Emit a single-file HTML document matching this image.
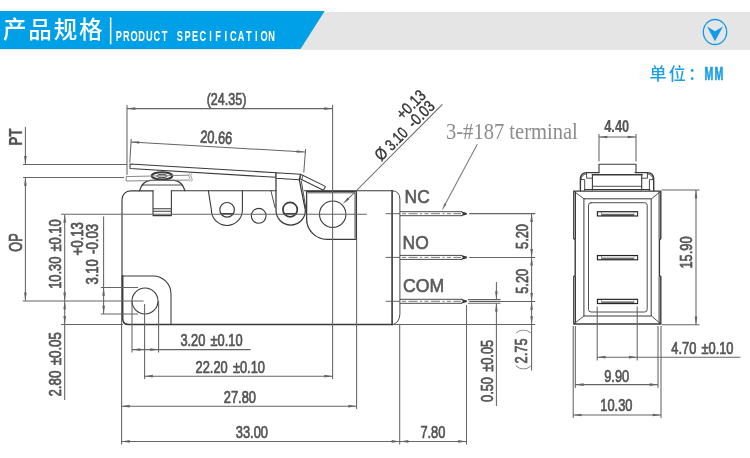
<!DOCTYPE html>
<html lang="zh"><head><meta charset="utf-8"><title>产品规格 PRODUCT SPECIFICATION</title>
<style>html,body{margin:0;padding:0;background:#fff}svg{display:block;will-change:transform}</style></head>
<body>
<svg width="750" height="458" viewBox="0 0 750 458">
<rect width="750" height="458" fill="#fff"/>
<rect x="0" y="12" width="750" height="37.9" fill="#e5e5e5"/>
<polygon points="0,11 324.7,11 300.5,49 0,49" fill="#00a0e9"/>
<text x="2.9" y="38.2" font-family="'Liberation Sans', 'Noto Sans CJK SC', sans-serif" font-size="23.5" font-weight="500" fill="#fff" letter-spacing="1.9">产品规格</text>
<rect x="109.9" y="17.4" width="1.5" height="26.8" fill="#fff"/>
<g transform="scale(0.64,1)"><text x="185.47 197.42 209.38 221.33 233.28 245.23 257.19 269.14 281.09 293.05 305.00 316.95 328.91 340.86 352.81 364.77 376.72 388.67 400.63 412.58 424.53" y="41.1" font-family="'Liberation Sans', sans-serif" font-size="14.4" font-weight="bold" fill="#fff" text-anchor="middle">PRODUCT SPECIFICATION</text></g>
<ellipse cx="715" cy="32" rx="11.7" ry="12.5" fill="none" stroke="#129be8" stroke-width="1.3"/>
<polygon points="707,26.6 715,31.2 723,26.6 715,41.2" fill="#129be8"/>
<text x="649.5" y="80" font-family="'Liberation Sans', 'Noto Sans CJK SC', sans-serif" font-size="17" font-weight="500" fill="#1a9fe8" letter-spacing="2.2">单位：</text>
<g transform="scale(0.6,1)"><text x="1181.50 1198.33" y="80.3" font-family="'Liberation Sans', sans-serif" font-size="17.6" font-weight="bold" fill="#1a9fe8" stroke="#1a9fe8" stroke-width="0.7" text-anchor="middle">MM</text></g>
<path d="M122,276 V199.3 A8.5,8.5 0 0 1 130.5,190.8 H153" fill="none" stroke="#3a3a3a" stroke-linejoin="round" stroke-linecap="round" stroke-width="1.15"/>
<path d="M171.4,190.8 H276 M304.4,190.8 H392.6" fill="none" stroke="#3a3a3a" stroke-linejoin="round" stroke-linecap="round" stroke-width="1.05"/>
<path d="M122.7,275.8 V318.6 Q123,324.5 128.6,324.5 H392.4" fill="none" stroke="#3a3a3a" stroke-linejoin="round" stroke-linecap="round" stroke-width="1.5"/>
<path d="M392.1,190.8 V324.5" fill="none" stroke="#3a3a3a" stroke-linejoin="round" stroke-linecap="round" stroke-width="1.6"/>
<path d="M392.6,190.8 Q399.6,191 399.9,199 V314 Q399.6,322.6 393,324.6" fill="none" stroke="#3a3a3a" stroke-linejoin="round" stroke-linecap="round" stroke-width="0.9"/>
<path d="M139.5,190.8 C141.5,184.5 145,180.6 150.5,180.3 H174 C179.5,180.6 183,184.5 185,190.8" fill="none" stroke="#3a3a3a" stroke-linejoin="round" stroke-linecap="round" stroke-width="1.2"/>
<path d="M153,190.8 V215.6 H171.4 V190.8 M153,208.8 H171.4 M153,211.2 H171.4" fill="none" stroke="#3a3a3a" stroke-linejoin="round" stroke-linecap="round" stroke-width="1.1"/>
<ellipse cx="162" cy="175.9" rx="10.2" ry="3.6" fill="none" stroke="#3a3a3a" stroke-linejoin="round" stroke-linecap="round" stroke-width="2.1"/>
<ellipse cx="162" cy="176" rx="5.2" ry="1.7" fill="#ddd" stroke="#3a3a3a" stroke-width="0.9"/>
<path d="M142,185 H182" fill="none" stroke="#3a3a3a" stroke-linejoin="round" stroke-linecap="round" stroke-width="0.9"/>
<path d="M189,175.2 L126.2,176.6 V181 L189,180" fill="none" stroke="#7a7a7a" stroke-width="0.9"/>
<path d="M189.5,173.5 q-1.5,2 0,4 q1.5,2 0,4 M191.5,173.5 q-1.5,2 0,4 q1.5,2 0,4" fill="none" stroke="#7a7a7a" stroke-width="0.7"/>
<path d="M130,164 L276,172.7 V177.3 L130,168.6 Z" fill="#fff" stroke="#3a3a3a" stroke-width="1.05" stroke-linejoin="round"/>
<path d="M300.6,174.2 L325.4,186.4 L323.4,190.2 L300,178.8 Z" fill="#fff" stroke="#3a3a3a" stroke-width="1.05" stroke-linejoin="round"/>
<path d="M276,172.8 L300.4,174.3 L299.3,179.7 L276,178.3 Z" fill="#fff" stroke="#3a3a3a" stroke-width="1.1" stroke-linejoin="round"/>
<path d="M302.8,175.4 L301.8,179.6" fill="none" stroke="#3a3a3a" stroke-linejoin="round" stroke-linecap="round" stroke-width="0.8"/>
<path d="M208.4,190.8 L211.4,210 A15.5,15.5 0 0 0 242.4,210 V190.8" fill="none" stroke="#3a3a3a" stroke-linejoin="round" stroke-linecap="round" stroke-width="1.1"/>
<circle cx="227.1" cy="209.8" r="7.3" fill="none" stroke="#3a3a3a" stroke-linejoin="round" stroke-linecap="round" stroke-width="1.2"/>
<path d="M221.4,213.7 H232.8" fill="none" stroke="#3a3a3a" stroke-linejoin="round" stroke-linecap="round" stroke-width="1.5"/>
<circle cx="258.7" cy="215.8" r="7.4" fill="none" stroke="#3a3a3a" stroke-linejoin="round" stroke-linecap="round" stroke-width="1.1"/>
<path d="M276,178.3 V210.3 A14.7,14.7 0 0 0 305.4,210.3 L299.3,179.7" fill="none" stroke="#3a3a3a" stroke-linejoin="round" stroke-linecap="round" stroke-width="1.25"/>
<path d="M271,191 L275,207.4" fill="none" stroke="#3a3a3a" stroke-linejoin="round" stroke-linecap="round" stroke-width="0.9"/>
<path d="M301.3,181 L305.9,208.5" fill="none" stroke="#3a3a3a" stroke-linejoin="round" stroke-linecap="round" stroke-width="0.9"/>
<circle cx="290.1" cy="209.6" r="7.2" fill="none" stroke="#3a3a3a" stroke-linejoin="round" stroke-linecap="round" stroke-width="1.7"/>
<path d="M284.4,213.8 H295.8" fill="none" stroke="#3a3a3a" stroke-linejoin="round" stroke-linecap="round" stroke-width="1.4"/>
<path d="M306.6,191.4 V219 A20.5,20.5 0 0 0 327,239.4 H356.4 V191.4 Z" fill="none" stroke="#3a3a3a" stroke-linejoin="round" stroke-linecap="round" stroke-width="1.3"/>
<path d="M308,192.8 H355 V238" fill="none" stroke="#3a3a3a" stroke-linejoin="round" stroke-linecap="round" stroke-width="0.9"/>
<circle cx="332.7" cy="214.2" r="13.2" fill="none" stroke="#3a3a3a" stroke-linejoin="round" stroke-linecap="round" stroke-width="1.1"/>
<path d="M122.4,275.9 H153 A18,18 0 0 1 171,293.9 V323.6" fill="none" stroke="#3a3a3a" stroke-linejoin="round" stroke-linecap="round" stroke-width="1.05"/>
<circle cx="145" cy="301" r="13" fill="none" stroke="#3a3a3a" stroke-linejoin="round" stroke-linecap="round" stroke-width="1.1"/>
<path d="M400,211.7 H462 M400,215.7 H462" fill="none" stroke="#4a4a4a" stroke-width="1"/>
<path d="M460.8,211.2 L466.9,212.9 V214.5 L460.8,216.2 L462.8,213.7 Z" fill="#3a3a3a"/>
<path d="M385.6,213.7 H400" fill="none" stroke="#555" stroke-width="0.9"/>
<line x1="402" y1="213.7" x2="461" y2="213.7" stroke="#444" stroke-width="0.7" stroke-dasharray="4,2.5,9,2.5,2,2.5"/>
<path d="M400,255.4 H462 M400,259.4 H462" fill="none" stroke="#4a4a4a" stroke-width="1"/>
<path d="M460.8,254.9 L466.9,256.6 V258.2 L460.8,259.9 L462.8,257.4 Z" fill="#3a3a3a"/>
<path d="M385.6,257.4 H400" fill="none" stroke="#555" stroke-width="0.9"/>
<line x1="402" y1="257.4" x2="461" y2="257.4" stroke="#444" stroke-width="0.7" stroke-dasharray="4,2.5,9,2.5,2,2.5"/>
<path d="M400,299.3 H462 M400,303.3 H462" fill="none" stroke="#4a4a4a" stroke-width="1"/>
<path d="M460.8,298.8 L466.9,300.5 V302.1 L460.8,303.8 L462.8,301.3 Z" fill="#3a3a3a"/>
<path d="M385.6,301.3 H400" fill="none" stroke="#555" stroke-width="0.9"/>
<line x1="402" y1="301.3" x2="461" y2="301.3" stroke="#444" stroke-width="0.7" stroke-dasharray="4,2.5,9,2.5,2,2.5"/>
<line x1="61" y1="214.3" x2="366.8" y2="214.3" stroke="#646464" stroke-width="1.05" />
<line x1="332.6" y1="105" x2="332.6" y2="379" stroke="#646464" stroke-width="1.05" />
<line x1="22.7" y1="300.9" x2="143.5" y2="300.9" stroke="#646464" stroke-width="1.05" />
<line x1="144.6" y1="304" x2="144.6" y2="379" stroke="#646464" stroke-width="1.05" />
<line x1="132" y1="301" x2="132" y2="352.5" stroke="#646464" stroke-width="1.05" />
<line x1="158.6" y1="301" x2="158.6" y2="352.5" stroke="#646464" stroke-width="1.05" />
<line x1="100.8" y1="287.4" x2="138" y2="287.4" stroke="#646464" stroke-width="1.05" />
<line x1="100.8" y1="314" x2="138" y2="314" stroke="#646464" stroke-width="1.05" />
<line x1="61" y1="324.4" x2="123" y2="324.4" stroke="#646464" stroke-width="1.05" />
<line x1="121.6" y1="276" x2="121.6" y2="444.5" stroke="#646464" stroke-width="1.05" />
<line x1="356.6" y1="239" x2="356.6" y2="409" stroke="#646464" stroke-width="1.05" />
<line x1="399.7" y1="324" x2="399.7" y2="444.5" stroke="#646464" stroke-width="1.05" />
<line x1="466.5" y1="305" x2="466.5" y2="444.5" stroke="#646464" stroke-width="1.05" />
<line x1="394" y1="324.5" x2="535.2" y2="324.5" stroke="#646464" stroke-width="1.05" />
<line x1="469.3" y1="213.6" x2="535.2" y2="213.6" stroke="#646464" stroke-width="1.05" />
<line x1="469.3" y1="257.4" x2="535.2" y2="257.4" stroke="#646464" stroke-width="1.05" />
<line x1="468" y1="299.6" x2="500.5" y2="299.6" stroke="#646464" stroke-width="1.05" />
<line x1="468" y1="303.2" x2="500.5" y2="303.2" stroke="#646464" stroke-width="1.05" />
<line x1="469.3" y1="301.4" x2="535.2" y2="301.4" stroke="#646464" stroke-width="1.05" />
<line x1="23" y1="164.4" x2="127" y2="164.4" stroke="#646464" stroke-width="1.05" />
<line x1="23" y1="177.4" x2="124" y2="177.4" stroke="#646464" stroke-width="1.05" />
<line x1="127" y1="105" x2="127" y2="175" stroke="#646464" stroke-width="1.05" />
<line x1="25.4" y1="127" x2="25.4" y2="164.4" stroke="#646464" stroke-width="1.05" />
<polygon points="25.40,164.40 24.05,156.10 26.75,156.10" fill="#646464"/>
<line x1="25.4" y1="177.4" x2="25.4" y2="300.8" stroke="#646464" stroke-width="1.05" />
<polygon points="25.40,177.40 26.75,185.70 24.05,185.70" fill="#646464"/>
<polygon points="25.40,300.80 24.05,292.50 26.75,292.50" fill="#646464"/>
<g opacity="0.999" transform="translate(21.7,145.8) rotate(-90) scale(0.76,1)"><text font-family="'Liberation Sans', Arial, sans-serif" font-size="18" font-weight="bold" fill="#545454" stroke="#545454" stroke-width="0.2" text-anchor="start" >PT</text></g>
<g opacity="0.999" transform="translate(21.7,251.8) rotate(-90) scale(0.71,1)"><text font-family="'Liberation Sans', Arial, sans-serif" font-size="18" font-weight="normal" fill="#545454" stroke="#545454" stroke-width="0.74" text-anchor="start" >OP</text></g>
<line x1="127" y1="108.6" x2="332.6" y2="108.6" stroke="#646464" stroke-width="1.05" />
<polygon points="127.00,108.60 135.30,107.25 135.30,109.95" fill="#646464"/>
<polygon points="332.60,108.60 324.30,109.95 324.30,107.25" fill="#646464"/>
<g opacity="0.999" transform="translate(206.7,105.4) rotate(0) scale(0.72,1)"><text font-family="'Liberation Sans', Arial, sans-serif" font-size="17.4" font-weight="normal" fill="#545454" stroke="#545454" stroke-width="0.74" text-anchor="start" >(24.35)</text></g>
<line x1="131" y1="142" x2="305" y2="152" stroke="#646464" stroke-width="1.05" />
<polygon points="131.00,142.00 139.36,141.13 139.21,143.83" fill="#646464"/>
<polygon points="305.00,152.00 296.64,152.87 296.79,150.17" fill="#646464"/>
<line x1="131.2" y1="139" x2="129.8" y2="162.5" stroke="#646464" stroke-width="1.05" />
<line x1="305.6" y1="149" x2="303.8" y2="172.5" stroke="#646464" stroke-width="1.05" />
<g opacity="0.999" transform="translate(199.9,142.4) rotate(3.3) scale(0.738,1)"><text font-family="'Liberation Sans', Arial, sans-serif" font-size="17.4" font-weight="normal" fill="#545454" stroke="#545454" stroke-width="0.74" text-anchor="start" >20.66</text></g>
<line x1="64.7" y1="214.4" x2="64.7" y2="400" stroke="#646464" stroke-width="1.05" />
<polygon points="64.70,214.40 66.05,222.70 63.35,222.70" fill="#646464"/>
<polygon points="64.70,300.90 63.35,292.60 66.05,292.60" fill="#646464"/>
<polygon points="64.70,300.90 66.05,309.20 63.35,309.20" fill="#646464"/>
<polygon points="64.70,324.40 63.35,316.10 66.05,316.10" fill="#646464"/>
<g opacity="0.999" transform="translate(60.7,288.8) rotate(-90) scale(0.738,1)"><text word-spacing="2.2" font-family="'Liberation Sans', Arial, sans-serif" font-size="17.4" font-weight="normal" fill="#545454" stroke="#545454" stroke-width="0.74" text-anchor="start" >10.30 ±0.10</text></g>
<g opacity="0.999" transform="translate(61.2,396.6) rotate(-90) scale(0.765,1)"><text word-spacing="2.2" font-family="'Liberation Sans', Arial, sans-serif" font-size="17.4" font-weight="normal" fill="#545454" stroke="#545454" stroke-width="0.74" text-anchor="start" >2.80 ±0.05</text></g>
<line x1="103.6" y1="216.5" x2="103.6" y2="314" stroke="#646464" stroke-width="1.05" />
<polygon points="103.60,287.40 104.95,295.70 102.25,295.70" fill="#646464"/>
<polygon points="103.60,314.00 102.25,305.70 104.95,305.70" fill="#646464"/>
<g opacity="0.999" transform="translate(98.3,284.6) rotate(-90) scale(0.83,1)"><text font-family="'Liberation Sans', Arial, sans-serif" font-size="15.8" font-weight="normal" fill="#545454" stroke="#545454" stroke-width="0.74" text-anchor="start" >3.10</text></g>
<g opacity="0.999" transform="translate(83.3,255.6) rotate(-90) scale(0.85,1)"><text font-family="'Liberation Sans', Arial, sans-serif" font-size="15.6" font-weight="normal" fill="#545454" stroke="#545454" stroke-width="0.74" text-anchor="start" >+0.13</text></g>
<g opacity="0.999" transform="translate(98.3,254) rotate(-90) scale(0.85,1)"><text font-family="'Liberation Sans', Arial, sans-serif" font-size="15.6" font-weight="normal" fill="#545454" stroke="#545454" stroke-width="0.74" text-anchor="start" >-0.03</text></g>
<line x1="132" y1="349.6" x2="250.7" y2="349.6" stroke="#646464" stroke-width="1.05" />
<polygon points="132.00,349.60 140.30,348.25 140.30,350.95" fill="#646464"/>
<polygon points="158.60,349.60 150.30,350.95 150.30,348.25" fill="#646464"/>
<g opacity="0.999" transform="translate(180.4,346.4) rotate(0) scale(0.738,1)"><text word-spacing="2.2" font-family="'Liberation Sans', Arial, sans-serif" font-size="17.4" font-weight="normal" fill="#545454" stroke="#545454" stroke-width="0.74" text-anchor="start" >3.20 ±0.10</text></g>
<line x1="144.6" y1="376.2" x2="332.6" y2="376.2" stroke="#646464" stroke-width="1.05" />
<polygon points="144.60,376.20 152.90,374.85 152.90,377.55" fill="#646464"/>
<polygon points="332.60,376.20 324.30,377.55 324.30,374.85" fill="#646464"/>
<g opacity="0.999" transform="translate(195.6,373.0) rotate(0) scale(0.738,1)"><text word-spacing="2.2" font-family="'Liberation Sans', Arial, sans-serif" font-size="17.4" font-weight="normal" fill="#545454" stroke="#545454" stroke-width="0.74" text-anchor="start" >22.20 ±0.10</text></g>
<line x1="121.4" y1="406.2" x2="356.6" y2="406.2" stroke="#646464" stroke-width="1.05" />
<polygon points="121.40,406.20 129.70,404.85 129.70,407.55" fill="#646464"/>
<polygon points="356.60,406.20 348.30,407.55 348.30,404.85" fill="#646464"/>
<g opacity="0.999" transform="translate(223.8,402.6) rotate(0) scale(0.738,1)"><text font-family="'Liberation Sans', Arial, sans-serif" font-size="17.4" font-weight="normal" fill="#545454" stroke="#545454" stroke-width="0.74" text-anchor="start" >27.80</text></g>
<line x1="121.4" y1="441.4" x2="400" y2="441.4" stroke="#646464" stroke-width="1.05" />
<polygon points="121.40,441.40 129.70,440.05 129.70,442.75" fill="#646464"/>
<polygon points="400.00,441.40 391.70,442.75 391.70,440.05" fill="#646464"/>
<g opacity="0.999" transform="translate(235.8,437.8) rotate(0) scale(0.738,1)"><text font-family="'Liberation Sans', Arial, sans-serif" font-size="17.4" font-weight="normal" fill="#545454" stroke="#545454" stroke-width="0.74" text-anchor="start" >33.00</text></g>
<line x1="400" y1="441.4" x2="466.5" y2="441.4" stroke="#646464" stroke-width="1.05" />
<polygon points="400.00,441.40 408.30,440.05 408.30,442.75" fill="#646464"/>
<polygon points="466.50,441.40 458.20,442.75 458.20,440.05" fill="#646464"/>
<g opacity="0.999" transform="translate(420.4,437.8) rotate(0) scale(0.738,1)"><text font-family="'Liberation Sans', Arial, sans-serif" font-size="17.4" font-weight="normal" fill="#545454" stroke="#545454" stroke-width="0.74" text-anchor="start" >7.80</text></g>
<line x1="531.6" y1="213.6" x2="531.6" y2="370.6" stroke="#646464" stroke-width="1.05" />
<polygon points="531.60,213.60 532.95,221.90 530.25,221.90" fill="#646464"/>
<polygon points="531.60,257.30 530.25,249.00 532.95,249.00" fill="#646464"/>
<polygon points="531.60,257.30 532.95,265.60 530.25,265.60" fill="#646464"/>
<polygon points="531.60,301.40 530.25,293.10 532.95,293.10" fill="#646464"/>
<polygon points="531.60,301.40 532.95,309.70 530.25,309.70" fill="#646464"/>
<polygon points="531.60,324.50 530.25,316.20 532.95,316.20" fill="#646464"/>
<g opacity="0.999" transform="translate(527.7,249) rotate(-90) scale(0.738,1)"><text font-family="'Liberation Sans', Arial, sans-serif" font-size="17.4" font-weight="normal" fill="#545454" stroke="#545454" stroke-width="0.74" text-anchor="start" >5.20</text></g>
<g opacity="0.999" transform="translate(527.7,293.8) rotate(-90) scale(0.738,1)"><text font-family="'Liberation Sans', Arial, sans-serif" font-size="17.4" font-weight="normal" fill="#545454" stroke="#545454" stroke-width="0.74" text-anchor="start" >5.20</text></g>
<g opacity="0.999" transform="translate(527.1,363.4) rotate(-90) scale(0.738,1)"><text font-family="'Liberation Sans', Arial, sans-serif" font-size="17.4" font-weight="normal" fill="#545454" stroke="#545454" stroke-width="0.74" text-anchor="start" >2.75</text></g>
<g opacity="0.999" transform="translate(529.2,380.8) rotate(-90)"><text font-family="'Liberation Sans', 'Noto Sans CJK SC', sans-serif" font-size="16" font-weight="300" fill="#808080">（</text></g>
<g opacity="0.999" transform="translate(529.2,334.3) rotate(-90)"><text font-family="'Liberation Sans', 'Noto Sans CJK SC', sans-serif" font-size="16" font-weight="300" fill="#808080">）</text></g>
<line x1="496.4" y1="282" x2="496.4" y2="299.6" stroke="#646464" stroke-width="1.05" />
<line x1="496.4" y1="303.2" x2="496.4" y2="406" stroke="#646464" stroke-width="1.05" />
<polygon points="496.40,299.60 495.05,291.30 497.75,291.30" fill="#646464"/>
<polygon points="496.40,303.20 497.75,311.50 495.05,311.50" fill="#646464"/>
<g opacity="0.999" transform="translate(493.2,402) rotate(-90) scale(0.738,1)"><text word-spacing="2.2" font-family="'Liberation Sans', Arial, sans-serif" font-size="17.4" font-weight="normal" fill="#545454" stroke="#545454" stroke-width="0.74" text-anchor="start" >0.50 ±0.05</text></g>
<line x1="442.4" y1="104.4" x2="356" y2="191" stroke="#646464" stroke-width="1.05" />
<polygon points="342.60,204.20 347.57,197.42 349.47,199.35" fill="#646464"/>
<line x1="356" y1="191" x2="346" y2="200.8" stroke="#646464" stroke-width="1.05" />
<g opacity="0.999" transform="translate(381.24,161.8) rotate(-45) scale(0.84,1)"><text font-family="'Liberation Sans', Arial, sans-serif" font-size="16.6" font-weight="normal" fill="#333" stroke="#333" stroke-width="0.4" text-anchor="start" >Ø</text></g>
<g opacity="0.999" transform="translate(391.64,151.4) rotate(-45) scale(0.78,1)"><text font-family="'Liberation Sans', Arial, sans-serif" font-size="16.2" font-weight="normal" fill="#333" stroke="#333" stroke-width="0.4" text-anchor="start" >3.10</text></g>
<g opacity="0.999" transform="translate(414.12,128.92) rotate(-45) scale(0.83,1)"><text font-family="'Liberation Sans', Arial, sans-serif" font-size="16.2" font-weight="normal" fill="#333" stroke="#333" stroke-width="0.4" text-anchor="start" >-0.03</text></g>
<g opacity="0.999" transform="translate(402.81,120.43) rotate(-45) scale(0.83,1)"><text font-family="'Liberation Sans', Arial, sans-serif" font-size="16.2" font-weight="normal" fill="#333" stroke="#333" stroke-width="0.4" text-anchor="start" >+0.13</text></g>
<line x1="477.3" y1="144.3" x2="444.5" y2="205.5" stroke="#777" stroke-width="1.05" />
<polygon points="441.70,211.00 444.37,203.36 446.49,204.48" fill="#777"/>
<g opacity="0.999" transform="translate(446,139.2) rotate(0) scale(0.857,1)"><text font-family="'Liberation Serif', serif" font-size="24" font-weight="normal" fill="#8c8c8c" text-anchor="start" >3-#187 terminal</text></g>
<g opacity="0.999" transform="translate(404.6,203.4) rotate(0) scale(0.94,1)"><text font-family="'Liberation Sans', Arial, sans-serif" font-size="18.5" font-weight="normal" fill="#5a5a5a" stroke="#5a5a5a" stroke-width="0.6" text-anchor="start" >NC</text></g>
<g opacity="0.999" transform="translate(402.6,249.4) rotate(0) scale(0.94,1)"><text font-family="'Liberation Sans', Arial, sans-serif" font-size="18.5" font-weight="normal" fill="#5a5a5a" stroke="#5a5a5a" stroke-width="0.6" text-anchor="start" >NO</text></g>
<g opacity="0.999" transform="translate(403,292.1) rotate(0) scale(0.955,1)"><text font-family="'Liberation Sans', Arial, sans-serif" font-size="18.5" font-weight="normal" fill="#5a5a5a" stroke="#5a5a5a" stroke-width="0.6" text-anchor="start" >COM</text></g>
<path d="M599,172.4 V164.3 H636 V172.4" fill="none" stroke="#3a3a3a" stroke-linejoin="round" stroke-linecap="round" stroke-width="1.1"/>
<path d="M580.4,190.6 V178.6 A6,6 0 0 1 586.4,172.6 H599" fill="none" stroke="#3a3a3a" stroke-linejoin="round" stroke-linecap="round" stroke-width="1.4"/>
<path d="M580.9,179.5 A5.6,5.6 0 0 1 586.4,173.9" fill="none" stroke="#3a3a3a" stroke-linejoin="round" stroke-linecap="round" stroke-width="0.9"/>
<path d="M580.9,179.6 H584.7 V190.5 M586.6,172.8 V178.2 H592.4" fill="none" stroke="#3a3a3a" stroke-linejoin="round" stroke-linecap="round" stroke-width="0.9"/>
<path d="M592.4,174.7 V190" fill="none" stroke="#3a3a3a" stroke-linejoin="round" stroke-linecap="round" stroke-width="1.1"/>
<path d="M653.7,190.6 V178.6 A6,6 0 0 0 647.7,172.6 H635.1" fill="none" stroke="#3a3a3a" stroke-linejoin="round" stroke-linecap="round" stroke-width="1.4"/>
<path d="M653.2,179.5 A5.6,5.6 0 0 0 647.7,173.9" fill="none" stroke="#3a3a3a" stroke-linejoin="round" stroke-linecap="round" stroke-width="0.9"/>
<path d="M653.2,179.6 H649.4 V190.5 M647.5,172.8 V178.2 H641.7" fill="none" stroke="#3a3a3a" stroke-linejoin="round" stroke-linecap="round" stroke-width="0.9"/>
<path d="M641.7,174.7 V190" fill="none" stroke="#3a3a3a" stroke-linejoin="round" stroke-linecap="round" stroke-width="1.1"/>
<path d="M592.4,174.7 H642.2" fill="none" stroke="#3a3a3a" stroke-linejoin="round" stroke-linecap="round" stroke-width="1.5"/>
<path d="M593,186.3 H641.6" fill="none" stroke="#3a3a3a" stroke-linejoin="round" stroke-linecap="round" stroke-width="0.9"/>
<path d="M584.7,189.5 H649.9" fill="none" stroke="#3a3a3a" stroke-linejoin="round" stroke-linecap="round" stroke-width="1.2"/>
<path d="M573.8,191.1 H660.8 V238.6 L659.4,239.6 V275.6 L660.8,276.6 V324 H573.8 V276.6 L575.2,275.6 V239.6 L573.8,238.6 Z" fill="none" stroke="#3a3a3a" stroke-linejoin="round" stroke-linecap="round" stroke-width="1.4"/>
<path d="M575.5,192 V238.6 M575.5,276.6 V323 M659.1,192 V238.6 M659.1,276.6 V323" fill="none" stroke="#3a3a3a" stroke-linejoin="round" stroke-linecap="round" stroke-width="1"/>
<rect x="584.3" y="198.8" width="66.9" height="117.2" fill="none" stroke="#3a3a3a" stroke-linejoin="round" stroke-linecap="round" stroke-width="1"/>
<rect x="588.5" y="202.7" width="58.7" height="109.3" rx="2.5" fill="none" stroke="#3a3a3a" stroke-linejoin="round" stroke-linecap="round" stroke-width="0.9"/>
<path d="M574.2,191.5 L584,198.8 M660.4,191.5 L651.5,198.8 M574.2,323.6 L584,316 M660.4,323.6 L651.5,316" fill="none" stroke="#3a3a3a" stroke-linejoin="round" stroke-linecap="round" stroke-width="0.9"/>
<rect x="597.4" y="211.7" width="40.2" height="4.3" fill="#6e6e6e" stroke="#222" stroke-width="1.1"/>
<rect x="601.8" y="212.4" width="32" height="1.4" fill="#fff"/>
<rect x="598.1" y="212.4" width="3.1" height="2.9" fill="#fff"/>
<rect x="634.2" y="212.4" width="2.9" height="2.9" fill="#fff"/>
<rect x="597.4" y="255.5" width="40.2" height="4.3" fill="#6e6e6e" stroke="#222" stroke-width="1.1"/>
<rect x="601.8" y="256.2" width="32" height="1.4" fill="#fff"/>
<rect x="598.1" y="256.2" width="3.1" height="2.9" fill="#fff"/>
<rect x="634.2" y="256.2" width="2.9" height="2.9" fill="#fff"/>
<rect x="597.4" y="299.3" width="40.2" height="4.3" fill="#6e6e6e" stroke="#222" stroke-width="1.1"/>
<rect x="601.8" y="300.0" width="32" height="1.4" fill="#fff"/>
<rect x="598.1" y="300.0" width="3.1" height="2.9" fill="#fff"/>
<rect x="634.2" y="300.0" width="2.9" height="2.9" fill="#fff"/>
<line x1="599" y1="134" x2="599" y2="161.6" stroke="#646464" stroke-width="1.05" />
<line x1="636" y1="134" x2="636" y2="161.6" stroke="#646464" stroke-width="1.05" />
<line x1="599" y1="137" x2="636" y2="137" stroke="#646464" stroke-width="1.05" />
<polygon points="599.00,137.00 607.30,135.65 607.30,138.35" fill="#646464"/>
<polygon points="636.00,137.00 627.70,138.35 627.70,135.65" fill="#646464"/>
<g opacity="0.999" transform="translate(604.2,131.8) rotate(0) scale(0.738,1)"><text font-family="'Liberation Sans', Arial, sans-serif" font-size="17.4" font-weight="bold" fill="#545454" stroke="#545454" stroke-width="0.2" text-anchor="start" >4.40</text></g>
<line x1="661.6" y1="190" x2="699.5" y2="190" stroke="#646464" stroke-width="1.05" />
<line x1="661.6" y1="324.8" x2="699.5" y2="324.8" stroke="#646464" stroke-width="1.05" />
<line x1="696" y1="190" x2="696" y2="324.8" stroke="#646464" stroke-width="1.05" />
<polygon points="696.00,190.00 697.35,198.30 694.65,198.30" fill="#646464"/>
<polygon points="696.00,324.80 694.65,316.50 697.35,316.50" fill="#646464"/>
<g opacity="0.999" transform="translate(691.6,268.6) rotate(-90) scale(0.738,1)"><text font-family="'Liberation Sans', Arial, sans-serif" font-size="17.4" font-weight="normal" fill="#545454" stroke="#545454" stroke-width="0.74" text-anchor="start" >15.90</text></g>
<line x1="597.2" y1="306.4" x2="597.2" y2="360.5" stroke="#646464" stroke-width="1.05" />
<line x1="637.2" y1="306.4" x2="637.2" y2="360.5" stroke="#646464" stroke-width="1.05" />
<line x1="597.2" y1="357.2" x2="740.4" y2="357.2" stroke="#646464" stroke-width="1.05" />
<polygon points="597.20,357.20 605.50,355.85 605.50,358.55" fill="#646464"/>
<polygon points="637.20,357.20 628.90,358.55 628.90,355.85" fill="#646464"/>
<g opacity="0.999" transform="translate(671.3,354.0) rotate(0) scale(0.738,1)"><text word-spacing="2.2" font-family="'Liberation Sans', Arial, sans-serif" font-size="17.4" font-weight="normal" fill="#545454" stroke="#545454" stroke-width="0.74" text-anchor="start" >4.70 ±0.10</text></g>
<line x1="575.3" y1="326" x2="575.3" y2="388" stroke="#646464" stroke-width="1.05" />
<line x1="658" y1="326" x2="658" y2="388" stroke="#646464" stroke-width="1.05" />
<line x1="575.3" y1="384.6" x2="658" y2="384.6" stroke="#646464" stroke-width="1.05" />
<polygon points="575.30,384.60 583.60,383.25 583.60,385.95" fill="#646464"/>
<polygon points="658.00,384.60 649.70,385.95 649.70,383.25" fill="#646464"/>
<g opacity="0.999" transform="translate(604.2,381.6) rotate(0) scale(0.738,1)"><text font-family="'Liberation Sans', Arial, sans-serif" font-size="17.4" font-weight="normal" fill="#545454" stroke="#545454" stroke-width="0.74" text-anchor="start" >9.90</text></g>
<line x1="573.2" y1="326" x2="573.2" y2="418" stroke="#646464" stroke-width="1.05" />
<line x1="661" y1="326" x2="661" y2="418" stroke="#646464" stroke-width="1.05" />
<line x1="573.2" y1="415" x2="661" y2="415" stroke="#646464" stroke-width="1.05" />
<polygon points="573.20,415.00 581.50,413.65 581.50,416.35" fill="#646464"/>
<polygon points="661.00,415.00 652.70,416.35 652.70,413.65" fill="#646464"/>
<g opacity="0.999" transform="translate(600.3,411.2) rotate(0) scale(0.738,1)"><text font-family="'Liberation Sans', Arial, sans-serif" font-size="17.4" font-weight="normal" fill="#545454" stroke="#545454" stroke-width="0.74" text-anchor="start" >10.30</text></g>
</svg>
</body></html>
